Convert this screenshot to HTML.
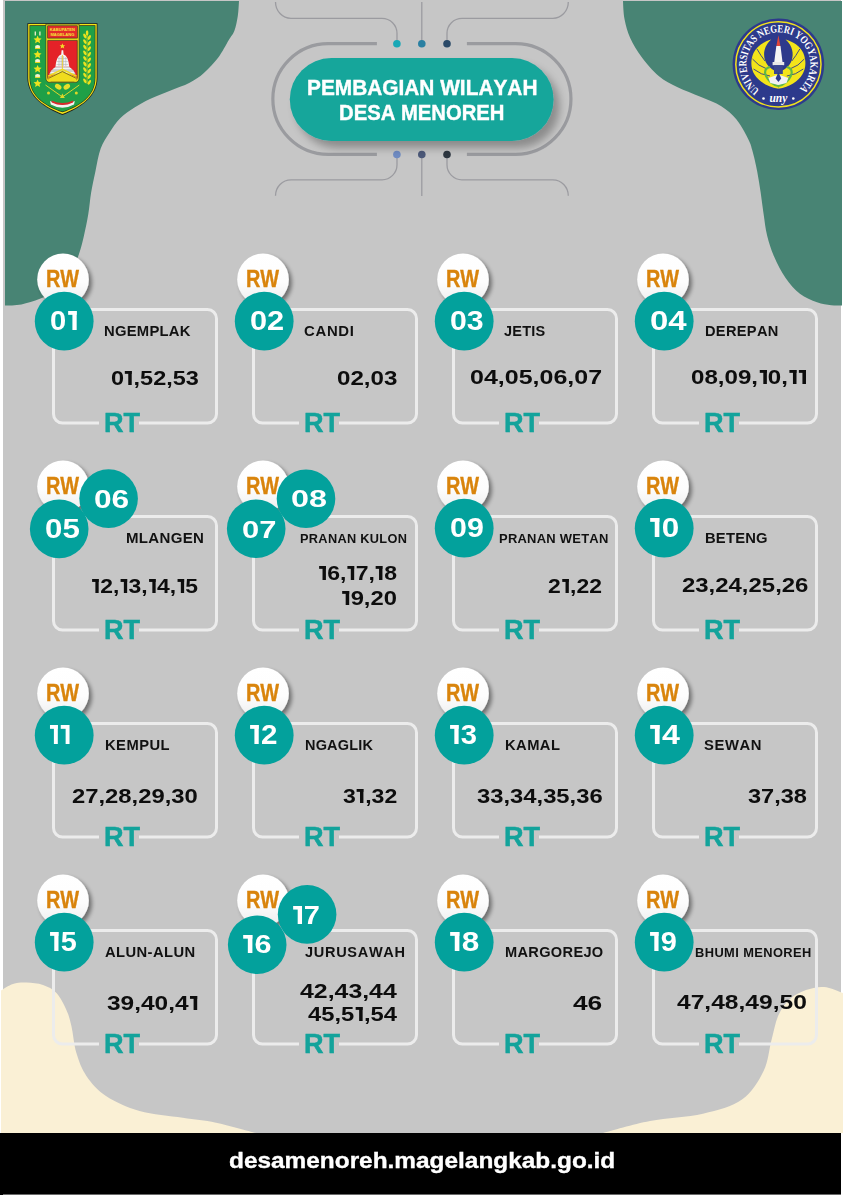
<!DOCTYPE html>
<html><head><meta charset="utf-8"><title>Pembagian Wilayah Desa Menoreh</title>
<style>
html,body{margin:0;padding:0;}
body{width:843px;height:1195px;position:relative;overflow:hidden;background:#ffffff;}
svg.bg{position:absolute;left:0;top:0;}
.t{position:absolute;white-space:nowrap;transform-origin:0 0;font-family:"Liberation Sans",sans-serif;font-weight:bold;font-kerning:none;font-feature-settings:"kern" 0,"liga" 0;}
.o{display:inline-block;width:0.30em;height:0.688em;margin-left:0.05em;margin-right:0.056em;background:linear-gradient(currentColor,currentColor) no-repeat right top/0.15em 100%,linear-gradient(currentColor,currentColor) no-repeat left top/0.3em 0.14em;}
</style></head><body>
<svg class="bg" width="843" height="1195" viewBox="0 0 843 1195">
<defs>
<linearGradient id="rwg" x1="0" y1="0" x2="0" y2="1"><stop offset="0" stop-color="#ffffff"/><stop offset="0.55" stop-color="#fdfdfd"/><stop offset="1" stop-color="#ececec"/></linearGradient>
<filter id="rwshadow" x="-40%" y="-40%" width="190%" height="190%"><feGaussianBlur in="SourceAlpha" stdDeviation="2.2"/><feOffset dx="3" dy="2.5"/><feComponentTransfer><feFuncA type="linear" slope="0.45"/></feComponentTransfer><feMerge><feMergeNode/><feMergeNode in="SourceGraphic"/></feMerge></filter>
<filter id="pshadow" x="-20%" y="-30%" width="140%" height="170%"><feGaussianBlur in="SourceAlpha" stdDeviation="4.5"/><feOffset dx="6" dy="7"/><feComponentTransfer><feFuncA type="linear" slope="0.3"/></feComponentTransfer><feMerge><feMergeNode/><feMergeNode in="SourceGraphic"/></feMerge></filter>
</defs>
<rect x="3" y="0" width="838" height="1195" fill="#c6c6c6"/>
<path d="M239.0,1.0 C238.8,3.5 238.6,11.0 237.8,16.0 C237.0,21.0 235.9,26.8 234.4,30.8 C232.9,34.8 231.5,35.5 228.8,40.0 C226.1,44.5 222.2,52.3 218.1,57.8 C213.9,63.3 208.7,68.8 203.9,72.9 C199.2,77.1 195.2,79.7 189.6,82.7 C183.9,85.7 176.5,88.0 170.0,90.7 C163.5,93.4 156.4,95.9 150.5,98.7 C144.6,101.5 139.6,104.3 134.5,107.6 C129.4,110.9 124.4,114.1 120.2,118.3 C116.0,122.5 112.8,127.5 109.6,132.5 C106.3,137.5 103.1,142.0 100.7,148.5 C98.3,155.0 97.0,164.0 95.4,171.4 C93.8,178.8 92.3,185.6 91.1,192.7 C89.9,199.8 89.5,206.9 88.3,214.0 C87.1,221.1 85.5,228.8 84.0,235.4 C82.5,242.1 81.2,247.5 79.0,253.9 C76.8,260.3 74.2,268.0 70.5,274.0 C66.8,280.0 62.1,285.9 57.0,290.0 C51.9,294.1 45.8,296.4 39.9,298.8 C34.0,301.2 27.2,303.3 21.4,304.4 C15.6,305.5 7.7,305.3 5.0,305.5 L5,1 Z" fill="#488474"/>
<path d="M623.0,1.0 C623.2,4.0 623.3,12.8 624.5,19.0 C625.7,25.2 627.4,31.7 630.2,38.0 C633.1,44.3 636.9,50.7 641.6,57.0 C646.4,63.3 652.7,70.9 658.7,75.9 C664.7,81.0 670.7,83.8 677.6,87.3 C684.5,90.8 693.1,93.6 700.4,96.8 C707.7,100.0 715.3,102.5 721.3,106.3 C727.3,110.1 732.1,114.2 736.5,119.6 C740.9,125.0 745.3,133.4 747.9,138.5 C750.5,143.6 750.7,144.5 752.2,150.0 C753.8,155.5 755.8,164.3 757.2,171.4 C758.6,178.5 759.6,185.6 760.7,192.7 C761.8,199.8 762.5,206.9 763.6,214.0 C764.7,221.1 765.3,228.3 767.1,235.4 C768.9,242.5 771.1,249.7 774.2,256.8 C777.3,263.9 781.3,271.9 785.6,278.1 C789.9,284.3 794.7,289.8 799.9,293.8 C805.1,297.8 811.8,300.4 817.0,302.3 C822.2,304.2 827.0,304.7 831.2,305.2 C835.4,305.7 840.2,305.4 842.0,305.4 L842,1 Z" fill="#488474"/>
<path d="M1.0,990.5 C3.0,989.4 8.7,985.3 13.0,984.0 C17.3,982.7 21.6,982.4 26.6,982.6 C31.6,982.8 38.0,983.3 43.0,985.0 C48.0,986.7 52.6,988.8 56.5,993.0 C60.4,997.2 63.9,1004.5 66.4,1010.0 C68.9,1015.5 69.7,1018.8 71.4,1026.0 C73.1,1033.2 73.9,1044.7 76.4,1053.0 C78.9,1061.3 81.5,1068.8 86.4,1076.0 C91.3,1083.2 97.2,1090.2 106.0,1096.0 C114.8,1101.8 126.7,1107.4 139.5,1111.0 C152.3,1114.6 169.9,1115.8 182.7,1117.8 C195.4,1119.8 203.8,1120.2 216.0,1122.7 C228.2,1125.2 249.3,1131.3 256.0,1133.0 L1,1133 Z" fill="#faf0d5"/>
<path d="M603.0,1133.0 C610.8,1131.0 633.3,1124.2 650.0,1121.0 C666.7,1117.8 687.7,1117.3 703.0,1113.7 C718.3,1110.1 731.9,1106.6 742.0,1099.5 C752.1,1092.4 758.7,1080.9 763.6,1071.0 C768.5,1061.1 769.0,1049.3 771.5,1040.0 C774.0,1030.7 775.4,1021.8 778.5,1015.0 C781.6,1008.2 785.4,1003.2 790.0,999.0 C794.6,994.8 800.3,992.0 806.0,990.0 C811.7,988.0 817.8,986.5 824.0,987.0 C830.2,987.5 839.8,992.0 843.0,993.0 L843,1133 Z" fill="#faf0d5"/>
<g fill="none" stroke="#9b9ba0" stroke-width="1.3"><path d="M275.5,2 A15.5,16.3 0 0 0 291,18.3 H382 A15,15 0 0 1 397,33.3 V43"/><path d="M421.8,2 V43"/><path d="M447,43 V33.3 A15,15 0 0 1 462,18.3 H552.8 A15.5,16.3 0 0 0 568.3,2"/><path d="M397,155 V164.8 A15,15 0 0 1 382,179.8 H291 A15.5,16 0 0 0 275.5,195.8"/><path d="M421.8,155 V196"/><path d="M447,155 V164.8 A15,15 0 0 0 462,179.8 H552.8 A15.5,16 0 0 1 568.3,195.8"/></g>
<g fill="none" stroke="#9a9b9f" stroke-width="3.2"><path d="M376.9,43.65 H328.2 A55.35,55.35 0 0 0 328.2,154.35 H376.9"/><path d="M466.9,43.65 H515.6 A55.35,55.35 0 0 1 515.6,154.35 H466.9"/></g>
<circle cx="396.9" cy="43.8" r="3.8" fill="#19a8b6"/>
<circle cx="421.8" cy="43.8" r="3.8" fill="#2a80a2"/>
<circle cx="447" cy="43.8" r="3.8" fill="#2b4a68"/>
<circle cx="396.9" cy="154.5" r="3.8" fill="#6f8bc2"/>
<circle cx="421.8" cy="154.5" r="3.8" fill="#4b5878"/>
<circle cx="447" cy="154.5" r="3.8" fill="#2d3640"/>
<rect x="289.8" y="58" width="263.8" height="83" rx="41.5" fill="#16a69b" filter="url(#pshadow)"/>
<path d="M139.0,423.0 H207.5 A9,9 0 0 0 216.5,414.0 V318.5 A9,9 0 0 0 207.5,309.5 H62.5 A9,9 0 0 0 53.5,318.5 V414.0 A9,9 0 0 0 62.5,423.0 H99.0" fill="none" stroke="#ececec" stroke-width="3"/>
<circle cx="63" cy="279.4" r="25.8" fill="url(#rwg)" filter="url(#rwshadow)"/>
<circle cx="64.2" cy="321.2" r="29.4" fill="#03a19c"/>
<path d="M339.0,423.0 H407.5 A9,9 0 0 0 416.5,414.0 V318.5 A9,9 0 0 0 407.5,309.5 H262.5 A9,9 0 0 0 253.5,318.5 V414.0 A9,9 0 0 0 262.5,423.0 H299.0" fill="none" stroke="#ececec" stroke-width="3"/>
<circle cx="263" cy="279.4" r="25.8" fill="url(#rwg)" filter="url(#rwshadow)"/>
<circle cx="264.2" cy="321.2" r="29.4" fill="#03a19c"/>
<path d="M539.0,423.0 H607.5 A9,9 0 0 0 616.5,414.0 V318.5 A9,9 0 0 0 607.5,309.5 H462.5 A9,9 0 0 0 453.5,318.5 V414.0 A9,9 0 0 0 462.5,423.0 H499.0" fill="none" stroke="#ececec" stroke-width="3"/>
<circle cx="463" cy="279.4" r="25.8" fill="url(#rwg)" filter="url(#rwshadow)"/>
<circle cx="464.2" cy="321.2" r="29.4" fill="#03a19c"/>
<path d="M739.0,423.0 H807.5 A9,9 0 0 0 816.5,414.0 V318.5 A9,9 0 0 0 807.5,309.5 H662.5 A9,9 0 0 0 653.5,318.5 V414.0 A9,9 0 0 0 662.5,423.0 H699.0" fill="none" stroke="#ececec" stroke-width="3"/>
<circle cx="663" cy="279.4" r="25.8" fill="url(#rwg)" filter="url(#rwshadow)"/>
<circle cx="664.2" cy="321.2" r="29.4" fill="#03a19c"/>
<path d="M139.0,630.0 H207.5 A9,9 0 0 0 216.5,621.0 V525.5 A9,9 0 0 0 207.5,516.5 H62.5 A9,9 0 0 0 53.5,525.5 V621.0 A9,9 0 0 0 62.5,630.0 H99.0" fill="none" stroke="#ececec" stroke-width="3"/>
<circle cx="63" cy="486.4" r="25.8" fill="url(#rwg)" filter="url(#rwshadow)"/>
<circle cx="59.2" cy="528.9" r="29.3" fill="#03a19c"/>
<circle cx="108.6" cy="498.6" r="29.3" fill="#03a19c"/>
<path d="M339.0,630.0 H407.5 A9,9 0 0 0 416.5,621.0 V525.5 A9,9 0 0 0 407.5,516.5 H262.5 A9,9 0 0 0 253.5,525.5 V621.0 A9,9 0 0 0 262.5,630.0 H299.0" fill="none" stroke="#ececec" stroke-width="3"/>
<circle cx="263" cy="486.4" r="25.8" fill="url(#rwg)" filter="url(#rwshadow)"/>
<circle cx="256.2" cy="528.8" r="29.3" fill="#03a19c"/>
<circle cx="306" cy="498.8" r="29.3" fill="#03a19c"/>
<path d="M539.0,630.0 H607.5 A9,9 0 0 0 616.5,621.0 V525.5 A9,9 0 0 0 607.5,516.5 H462.5 A9,9 0 0 0 453.5,525.5 V621.0 A9,9 0 0 0 462.5,630.0 H499.0" fill="none" stroke="#ececec" stroke-width="3"/>
<circle cx="463" cy="486.4" r="25.8" fill="url(#rwg)" filter="url(#rwshadow)"/>
<circle cx="464.2" cy="528.2" r="29.4" fill="#03a19c"/>
<path d="M739.0,630.0 H807.5 A9,9 0 0 0 816.5,621.0 V525.5 A9,9 0 0 0 807.5,516.5 H662.5 A9,9 0 0 0 653.5,525.5 V621.0 A9,9 0 0 0 662.5,630.0 H699.0" fill="none" stroke="#ececec" stroke-width="3"/>
<circle cx="663" cy="486.4" r="25.8" fill="url(#rwg)" filter="url(#rwshadow)"/>
<circle cx="664.2" cy="528.2" r="29.4" fill="#03a19c"/>
<path d="M139.0,837.0 H207.5 A9,9 0 0 0 216.5,828.0 V732.5 A9,9 0 0 0 207.5,723.5 H62.5 A9,9 0 0 0 53.5,732.5 V828.0 A9,9 0 0 0 62.5,837.0 H99.0" fill="none" stroke="#ececec" stroke-width="3"/>
<circle cx="63" cy="693.4" r="25.8" fill="url(#rwg)" filter="url(#rwshadow)"/>
<circle cx="64.2" cy="735.2" r="29.4" fill="#03a19c"/>
<path d="M339.0,837.0 H407.5 A9,9 0 0 0 416.5,828.0 V732.5 A9,9 0 0 0 407.5,723.5 H262.5 A9,9 0 0 0 253.5,732.5 V828.0 A9,9 0 0 0 262.5,837.0 H299.0" fill="none" stroke="#ececec" stroke-width="3"/>
<circle cx="263" cy="693.4" r="25.8" fill="url(#rwg)" filter="url(#rwshadow)"/>
<circle cx="264.2" cy="735.2" r="29.4" fill="#03a19c"/>
<path d="M539.0,837.0 H607.5 A9,9 0 0 0 616.5,828.0 V732.5 A9,9 0 0 0 607.5,723.5 H462.5 A9,9 0 0 0 453.5,732.5 V828.0 A9,9 0 0 0 462.5,837.0 H499.0" fill="none" stroke="#ececec" stroke-width="3"/>
<circle cx="463" cy="693.4" r="25.8" fill="url(#rwg)" filter="url(#rwshadow)"/>
<circle cx="464.2" cy="735.2" r="29.4" fill="#03a19c"/>
<path d="M739.0,837.0 H807.5 A9,9 0 0 0 816.5,828.0 V732.5 A9,9 0 0 0 807.5,723.5 H662.5 A9,9 0 0 0 653.5,732.5 V828.0 A9,9 0 0 0 662.5,837.0 H699.0" fill="none" stroke="#ececec" stroke-width="3"/>
<circle cx="663" cy="693.4" r="25.8" fill="url(#rwg)" filter="url(#rwshadow)"/>
<circle cx="664.2" cy="735.2" r="29.4" fill="#03a19c"/>
<path d="M139.0,1044.0 H207.5 A9,9 0 0 0 216.5,1035.0 V939.5 A9,9 0 0 0 207.5,930.5 H62.5 A9,9 0 0 0 53.5,939.5 V1035.0 A9,9 0 0 0 62.5,1044.0 H99.0" fill="none" stroke="#ececec" stroke-width="3"/>
<circle cx="63" cy="900.4" r="25.8" fill="url(#rwg)" filter="url(#rwshadow)"/>
<circle cx="64.2" cy="942.2" r="29.4" fill="#03a19c"/>
<path d="M339.0,1044.0 H407.5 A9,9 0 0 0 416.5,1035.0 V939.5 A9,9 0 0 0 407.5,930.5 H262.5 A9,9 0 0 0 253.5,939.5 V1035.0 A9,9 0 0 0 262.5,1044.0 H299.0" fill="none" stroke="#ececec" stroke-width="3"/>
<circle cx="263" cy="900.4" r="25.8" fill="url(#rwg)" filter="url(#rwshadow)"/>
<circle cx="257.2" cy="944.8" r="29.3" fill="#03a19c"/>
<circle cx="307.1" cy="914.4" r="29.3" fill="#03a19c"/>
<path d="M539.0,1044.0 H607.5 A9,9 0 0 0 616.5,1035.0 V939.5 A9,9 0 0 0 607.5,930.5 H462.5 A9,9 0 0 0 453.5,939.5 V1035.0 A9,9 0 0 0 462.5,1044.0 H499.0" fill="none" stroke="#ececec" stroke-width="3"/>
<circle cx="463" cy="900.4" r="25.8" fill="url(#rwg)" filter="url(#rwshadow)"/>
<circle cx="464.2" cy="942.2" r="29.4" fill="#03a19c"/>
<path d="M739.0,1044.0 H807.5 A9,9 0 0 0 816.5,1035.0 V939.5 A9,9 0 0 0 807.5,930.5 H662.5 A9,9 0 0 0 653.5,939.5 V1035.0 A9,9 0 0 0 662.5,1044.0 H699.0" fill="none" stroke="#ececec" stroke-width="3"/>
<circle cx="663" cy="900.4" r="25.8" fill="url(#rwg)" filter="url(#rwshadow)"/>
<circle cx="664.2" cy="942.2" r="29.4" fill="#03a19c"/>
<rect x="0" y="1133" width="841" height="62" fill="#000"/>
<rect x="3" y="1194" width="838" height="1" fill="#6a6a6a"/>
<g><path d="M27.40,23.20 H97.50 V77.7 C97.50,97.00 80.00,108.00 62.45,115.10 C45.00,108.00 27.40,97.00 27.40,77.7 Z" fill="#1e1e1a"/><path d="M28.20,24.00 H96.70 V77.7 C96.70,96.76 80.00,107.20 62.45,114.06 C45.00,107.20 28.20,96.76 28.20,77.7 Z" fill="#f3e416"/><path d="M29.50,25.30 H95.40 V77.7 C95.40,96.37 80.00,105.90 62.45,112.37 C45.00,105.90 29.50,96.37 29.50,77.7 Z" fill="#2a2f1c"/><path d="M30.10,25.90 H94.80 V77.7 C94.80,96.19 80.00,105.30 62.45,111.59 C45.00,105.30 30.10,96.19 30.10,77.7 Z" fill="#1fa047"/><path d="M45.9,24.1 H79.1 V78 Q79.1,82.4 75,82.4 H50 Q45.9,82.4 45.9,78 Z" fill="#efe01a" stroke="#262626" stroke-width="0.6"/><rect x="47.7" y="25.8" width="29.6" height="12.3" fill="#e42b2a" stroke="#262626" stroke-width="0.6"/><text x="62.4" y="31.2" font-family="Liberation Sans" font-weight="bold" font-size="4.1" fill="#f5e53a" text-anchor="middle">KABUPATEN</text><text x="62.4" y="36" font-family="Liberation Sans" font-weight="bold" font-size="4.1" fill="#f5e53a" text-anchor="middle">MAGELANG</text><path d="M47.7,40.4 H77.3 V77.5 Q77.3,80.9 73.9,80.9 H51.1 Q47.7,80.9 47.7,77.5 Z" fill="#e42228" stroke="#262626" stroke-width="0.6"/><path d="M62.4,43.2 L63.2,45.2 L65.2,45.3 L63.7,46.6 L64.2,48.6 L62.4,47.5 L60.6,48.6 L61.1,46.6 L59.6,45.3 L61.6,45.2 Z" fill="#f2dc2a"/><path d="M61.6,50.2 H63.2 L63.6,54.4 C66.8,55.4 68.6,59.5 69.3,66.8 H55.5 C56.2,59.5 58,55.4 61.2,54.4 Z" fill="#f6f6f6"/><path d="M57.5,58.5 H67.3 M57,61.5 H67.8 M56.5,64.5 H68.3" stroke="#b8b8b8" stroke-width="0.6"/><path d="M59,57 V66 M61.2,56 V66 M63.6,56 V66 M65.8,57 V66" stroke="#b0b0b0" stroke-width="0.6"/><path d="M55.5,66.8 H69.3 L73.5,70.5 L75.8,74.6 H49 L51.3,70.5 Z" fill="#cfcfcf"/><path d="M53.6,68.6 H71.2 M50.6,72.6 H74.2" stroke="#f5f5f5" stroke-width="1"/><path d="M62.4,55 V73.5" stroke="#e6c92a" stroke-width="0.9"/><path d="M48.2,80.9 V77.6 L62.4,70.8 L76.6,77.6 V80.9 Z" fill="#f0dc1e"/><path d="M48.2,76.2 L62.4,69.4 L76.6,76.2" fill="none" stroke="#f0dc1e" stroke-width="1.6"/><path d="M48.6,78.3 L62.4,71.6 L76.2,78.3" fill="none" stroke="#5a4a1a" stroke-width="0.7"/><path d="M37.60,35.60 L38.78,38.17 L41.59,38.50 L39.52,40.42 L40.07,43.20 L37.60,41.82 L35.13,43.20 L35.68,40.42 L33.61,38.50 L36.42,38.17 Z" fill="#eee31e"/><path d="M37.60,50.50 L38.78,53.07 L41.59,53.40 L39.52,55.32 L40.07,58.10 L37.60,56.72 L35.13,58.10 L35.68,55.32 L33.61,53.40 L36.42,53.07 Z" fill="#eee31e"/><path d="M37.60,64.90 L38.78,67.47 L41.59,67.80 L39.52,69.72 L40.07,72.50 L37.60,71.12 L35.13,72.50 L35.68,69.72 L33.61,67.80 L36.42,67.47 Z" fill="#eee31e"/><path d="M37.60,79.40 L38.78,81.97 L41.59,82.30 L39.52,84.22 L40.07,87.00 L37.60,85.62 L35.13,87.00 L35.68,84.22 L33.61,82.30 L36.42,81.97 Z" fill="#eee31e"/><ellipse cx="37.6" cy="47" rx="2.6" ry="2" fill="#f6f3d0"/><rect x="35" y="48" width="5.2" height="1" fill="#e8d81c"/><ellipse cx="37.6" cy="61" rx="2.6" ry="2" fill="#f6f3d0"/><rect x="35" y="62" width="5.2" height="1" fill="#e8d81c"/><ellipse cx="37.6" cy="75.9" rx="2.6" ry="2" fill="#f6f3d0"/><rect x="35" y="76.9" width="5.2" height="1" fill="#e8d81c"/><path d="M35.3,31.5 V35.5 M39.9,31.5 V35.5" stroke="#f0eecc" stroke-width="1.3"/><path d="M87.1,32 V84" stroke="#d7d21c" stroke-width="0.7"/><ellipse cx="84.9" cy="36.0" rx="1.3" ry="2.6" transform="rotate(-30 84.9 36.0)" fill="#e9e21e"/><ellipse cx="89.3" cy="37.5" rx="1.3" ry="2.6" transform="rotate(30 89.3 37.5)" fill="#e9e21e"/><ellipse cx="84.9" cy="41.6" rx="1.3" ry="2.6" transform="rotate(-30 84.9 41.6)" fill="#e9e21e"/><ellipse cx="89.3" cy="43.1" rx="1.3" ry="2.6" transform="rotate(30 89.3 43.1)" fill="#e9e21e"/><ellipse cx="84.9" cy="47.2" rx="1.3" ry="2.6" transform="rotate(-30 84.9 47.2)" fill="#e9e21e"/><ellipse cx="89.3" cy="48.7" rx="1.3" ry="2.6" transform="rotate(30 89.3 48.7)" fill="#e9e21e"/><ellipse cx="84.9" cy="52.8" rx="1.3" ry="2.6" transform="rotate(-30 84.9 52.8)" fill="#e9e21e"/><ellipse cx="89.3" cy="54.3" rx="1.3" ry="2.6" transform="rotate(30 89.3 54.3)" fill="#e9e21e"/><ellipse cx="84.9" cy="58.4" rx="1.3" ry="2.6" transform="rotate(-30 84.9 58.4)" fill="#e9e21e"/><ellipse cx="89.3" cy="59.9" rx="1.3" ry="2.6" transform="rotate(30 89.3 59.9)" fill="#e9e21e"/><ellipse cx="84.9" cy="64.0" rx="1.3" ry="2.6" transform="rotate(-30 84.9 64.0)" fill="#e9e21e"/><ellipse cx="89.3" cy="65.5" rx="1.3" ry="2.6" transform="rotate(30 89.3 65.5)" fill="#e9e21e"/><ellipse cx="84.9" cy="69.6" rx="1.3" ry="2.6" transform="rotate(-30 84.9 69.6)" fill="#e9e21e"/><ellipse cx="89.3" cy="71.1" rx="1.3" ry="2.6" transform="rotate(30 89.3 71.1)" fill="#e9e21e"/><ellipse cx="84.9" cy="75.2" rx="1.3" ry="2.6" transform="rotate(-30 84.9 75.2)" fill="#e9e21e"/><ellipse cx="89.3" cy="76.7" rx="1.3" ry="2.6" transform="rotate(30 89.3 76.7)" fill="#e9e21e"/><ellipse cx="84.9" cy="80.8" rx="1.3" ry="2.6" transform="rotate(-30 84.9 80.8)" fill="#e9e21e"/><ellipse cx="89.3" cy="82.3" rx="1.3" ry="2.6" transform="rotate(30 89.3 82.3)" fill="#e9e21e"/><ellipse cx="87.1" cy="33" rx="1.3" ry="2.8" fill="#e9e21e"/><ellipse cx="58.2" cy="86.8" rx="3.6" ry="2.4" transform="rotate(35 58.2 86.8)" fill="#e6de2a"/><ellipse cx="66.8" cy="86.8" rx="3.6" ry="2.4" transform="rotate(-35 66.8 86.8)" fill="#e6de2a"/><path d="M45.5,85 L62.4,97 L79.3,85" fill="none" stroke="#dcd62a" stroke-width="1"/><circle cx="48.5" cy="93" r="1.5" fill="#dcd62a"/><circle cx="76.3" cy="93" r="1.5" fill="#dcd62a"/><path d="M62.4,93.5 L60,98 H64.8 Z" fill="#dcd62a"/><path d="M50,101 Q62.4,108 74.8,101 L74,104.5 Q62.4,111 50.8,104.5 Z" fill="#f2f2f2"/><path d="M51.5,100.5 Q62.4,105.5 73.3,100.5 L73,102.5 Q62.4,107.5 51.8,102.5 Z" fill="#d82a2a"/></g>
<g><circle cx="778.4" cy="64.3" r="45.8" fill="#2d3a8c"/><circle cx="778.4" cy="64.3" r="42.6" fill="none" stroke="#f1e21c" stroke-width="1.5"/><defs><path id="uarc" d="M759.6,90.2 A32,32 0 1 1 797.2,90.2"/></defs><text font-family="Liberation Serif" font-weight="bold" font-size="11" fill="#ffffff"><textPath href="#uarc" textLength="158" lengthAdjust="spacingAndGlyphs">UNIVERSITAS NEGERI YOGYAKARTA</textPath></text><path d="M771.2,39.5 C763,42 757,46 753.5,53 C750.5,60 750.5,68 754.5,74.5 C758.5,81 767,87 778.4,88.8 L778.4,72 C772,70 767,66 765,60 C763,54 764,46 771.2,39.5 Z" fill="#f3e41a"/><path d="M785.6,39.5 C793.8,42 799.8,46 803.3,53 C806.3,60 806.3,68 802.3,74.5 C798.3,81 789.8,87 778.4,88.8 L778.4,72 C784.8,70 789.8,66 791.8,60 C793.8,54 792.8,46 785.6,39.5 Z" fill="#f3e41a"/><path d="M757,49 Q761,56 765,61 M752.5,59 Q758,66 767,69 M753.5,69 Q761,75 770,76 M799.8,49 Q795.8,56 791.8,61 M804.3,59 Q798.8,66 789.8,69 M803.3,69 Q795.8,75 786.8,76" fill="none" stroke="#2d3a8c" stroke-width="0.9"/><path d="M776.3,46 H780.5 L782.6,62.5 H774.2 Z" fill="#f4f4f4"/><path d="M776.4,46 L778.4,35.2 L780.4,46 Z" fill="#e0463a"/><rect x="772.6" y="62" width="11.6" height="3.2" fill="#e8e8e8"/><path d="M774,65.2 H782.8 V74 H774 Z" fill="#3a4690"/><path d="M770,67 C765,68 764,72 766,76 C769,82 774,85 778.4,86 C782.8,85 787.8,82 790.8,76 C792.8,72 791.8,68 786.8,67" fill="none" stroke="#5fb848" stroke-width="2.2"/><path d="M768.5,78 L778.4,74.5 L788.3,78 L786.5,83 L778.4,85 L770.3,83 Z" fill="#f2f2f2"/><path d="M778.4,72 L781.2,78.5 L778.4,82 L775.6,78.5 Z" fill="#2d3a8c"/><text x="778.4" y="101.5" font-family="Liberation Serif" font-style="italic" font-weight="bold" font-size="11.5" fill="#ffffff" text-anchor="middle">uny</text><circle cx="763.5" cy="98.5" r="1.3" fill="#fff"/><circle cx="793.3" cy="98.5" r="1.3" fill="#fff"/></g>
</svg>
<div class="t" style="left:46.37px;top:267.00px;font-size:24.71px;line-height:24.71px;letter-spacing:-0.000px;color:#d9840c;transform:scaleX(0.8053);-webkit-text-stroke:0.35px #d9840c;">RW</div>
<div class="t" style="left:49.75px;top:307.00px;font-size:27.35px;line-height:27.35px;letter-spacing:0.000px;color:#ffffff;transform:scaleX(1.0671);">0<span class=o></span></div>
<div class="t" style="left:104.41px;top:324.00px;font-size:14.54px;line-height:14.54px;letter-spacing:0.231px;color:#111111;transform:scaleX(1.0193);">NGEMPLAK</div>
<div class="t" style="left:110.77px;top:368.00px;font-size:20.41px;line-height:20.41px;letter-spacing:0.000px;color:#0d0d0d;transform:scaleX(1.1505);">0<span class=o></span>,52,53</div>
<div class="t" style="left:103.89px;top:409.00px;font-size:27.76px;line-height:27.76px;letter-spacing:-0.000px;color:#13a39b;transform:scaleX(0.9756);-webkit-text-stroke:0.5px #13a39b;">RT</div>
<div class="t" style="left:246.37px;top:267.00px;font-size:24.71px;line-height:24.71px;letter-spacing:-0.000px;color:#d9840c;transform:scaleX(0.8053);-webkit-text-stroke:0.35px #d9840c;">RW</div>
<div class="t" style="left:249.68px;top:307.00px;font-size:27.35px;line-height:27.35px;letter-spacing:0.000px;color:#ffffff;transform:scaleX(1.1257);">02</div>
<div class="t" style="left:304.49px;top:324.00px;font-size:14.10px;line-height:14.10px;letter-spacing:0.647px;color:#111111;transform:scaleX(1.0566);">CANDI</div>
<div class="t" style="left:336.54px;top:368.00px;font-size:20.34px;line-height:20.34px;letter-spacing:0.000px;color:#0d0d0d;transform:scaleX(1.1874);">02,03</div>
<div class="t" style="left:303.89px;top:409.00px;font-size:27.76px;line-height:27.76px;letter-spacing:-0.000px;color:#13a39b;transform:scaleX(0.9756);-webkit-text-stroke:0.5px #13a39b;">RT</div>
<div class="t" style="left:446.37px;top:267.00px;font-size:24.71px;line-height:24.71px;letter-spacing:-0.000px;color:#d9840c;transform:scaleX(0.8053);-webkit-text-stroke:0.35px #d9840c;">RW</div>
<div class="t" style="left:449.70px;top:307.00px;font-size:27.35px;line-height:27.35px;letter-spacing:0.000px;color:#ffffff;transform:scaleX(1.1073);">03</div>
<div class="t" style="left:504.48px;top:324.00px;font-size:14.24px;line-height:14.24px;letter-spacing:0.199px;color:#111111;transform:scaleX(1.0201);">JETIS</div>
<div class="t" style="left:469.51px;top:367.00px;font-size:20.34px;line-height:20.34px;letter-spacing:0.000px;color:#0d0d0d;transform:scaleX(1.2295);">04,05,06,07</div>
<div class="t" style="left:503.89px;top:409.00px;font-size:27.76px;line-height:27.76px;letter-spacing:-0.000px;color:#13a39b;transform:scaleX(0.9756);-webkit-text-stroke:0.5px #13a39b;">RT</div>
<div class="t" style="left:646.37px;top:267.00px;font-size:24.71px;line-height:24.71px;letter-spacing:-0.000px;color:#d9840c;transform:scaleX(0.8053);-webkit-text-stroke:0.35px #d9840c;">RW</div>
<div class="t" style="left:649.60px;top:307.00px;font-size:27.35px;line-height:27.35px;letter-spacing:0.000px;color:#ffffff;transform:scaleX(1.2056);">04</div>
<div class="t" style="left:705.02px;top:324.00px;font-size:14.24px;line-height:14.24px;letter-spacing:0.305px;color:#111111;transform:scaleX(1.0263);">DEREPAN</div>
<div class="t" style="left:691.45px;top:367.00px;font-size:20.34px;line-height:20.34px;letter-spacing:0.000px;color:#0d0d0d;transform:scaleX(1.1854);">08,09,<span class=o></span>0,<span class=o></span><span class=o></span></div>
<div class="t" style="left:703.89px;top:409.00px;font-size:27.76px;line-height:27.76px;letter-spacing:-0.000px;color:#13a39b;transform:scaleX(0.9756);-webkit-text-stroke:0.5px #13a39b;">RT</div>
<div class="t" style="left:46.37px;top:474.00px;font-size:24.71px;line-height:24.71px;letter-spacing:-0.000px;color:#d9840c;transform:scaleX(0.8053);-webkit-text-stroke:0.35px #d9840c;">RW</div>
<div class="t" style="left:44.86px;top:516.00px;font-size:26.92px;line-height:26.92px;letter-spacing:0.000px;color:#ffffff;transform:scaleX(1.1623);">05</div>
<div class="t" style="left:93.75px;top:486.00px;font-size:26.50px;line-height:26.50px;letter-spacing:0.000px;color:#ffffff;transform:scaleX(1.1942);">06</div>
<div class="t" style="left:125.79px;top:531.00px;font-size:14.68px;line-height:14.68px;letter-spacing:0.313px;color:#111111;transform:scaleX(1.0254);">MLANGEN</div>
<div class="t" style="left:90.76px;top:576.00px;font-size:20.91px;line-height:20.91px;letter-spacing:0.000px;color:#0d0d0d;transform:scaleX(1.0955);"><span class=o></span>2,<span class=o></span>3,<span class=o></span>4,<span class=o></span>5</div>
<div class="t" style="left:103.89px;top:616.00px;font-size:27.76px;line-height:27.76px;letter-spacing:-0.000px;color:#13a39b;transform:scaleX(0.9756);-webkit-text-stroke:0.5px #13a39b;">RT</div>
<div class="t" style="left:246.37px;top:474.00px;font-size:24.71px;line-height:24.71px;letter-spacing:-0.000px;color:#d9840c;transform:scaleX(0.8053);-webkit-text-stroke:0.35px #d9840c;">RW</div>
<div class="t" style="left:241.68px;top:518.00px;font-size:24.78px;line-height:24.78px;letter-spacing:0.000px;color:#ffffff;transform:scaleX(1.2475);">07</div>
<div class="t" style="left:291.42px;top:487.00px;font-size:24.78px;line-height:24.78px;letter-spacing:0.000px;color:#ffffff;transform:scaleX(1.3053);">08</div>
<div class="t" style="left:300.15px;top:533.00px;font-size:12.35px;line-height:12.35px;letter-spacing:0.307px;color:#111111;transform:scaleX(1.0331);">PRANAN KULON</div>
<div class="t" style="left:317.95px;top:563.00px;font-size:20.34px;line-height:20.34px;letter-spacing:0.000px;color:#0d0d0d;transform:scaleX(1.1305);"><span class=o></span>6,<span class=o></span>7,<span class=o></span>8</div>
<div class="t" style="left:340.62px;top:588.00px;font-size:20.34px;line-height:20.34px;letter-spacing:0.000px;color:#0d0d0d;transform:scaleX(1.1697);"><span class=o></span>9,20</div>
<div class="t" style="left:303.89px;top:616.00px;font-size:27.76px;line-height:27.76px;letter-spacing:-0.000px;color:#13a39b;transform:scaleX(0.9756);-webkit-text-stroke:0.5px #13a39b;">RT</div>
<div class="t" style="left:446.37px;top:474.00px;font-size:24.71px;line-height:24.71px;letter-spacing:-0.000px;color:#d9840c;transform:scaleX(0.8053);-webkit-text-stroke:0.35px #d9840c;">RW</div>
<div class="t" style="left:449.70px;top:514.00px;font-size:27.35px;line-height:27.35px;letter-spacing:0.000px;color:#ffffff;transform:scaleX(1.1119);">09</div>
<div class="t" style="left:498.83px;top:533.00px;font-size:12.65px;line-height:12.65px;letter-spacing:0.242px;color:#111111;transform:scaleX(1.0254);">PRANAN WETAN</div>
<div class="t" style="left:548.21px;top:576.00px;font-size:20.91px;line-height:20.91px;letter-spacing:0.000px;color:#0d0d0d;transform:scaleX(1.0960);">2<span class=o></span>,22</div>
<div class="t" style="left:503.89px;top:616.00px;font-size:27.76px;line-height:27.76px;letter-spacing:-0.000px;color:#13a39b;transform:scaleX(0.9756);-webkit-text-stroke:0.5px #13a39b;">RT</div>
<div class="t" style="left:646.37px;top:474.00px;font-size:24.71px;line-height:24.71px;letter-spacing:-0.000px;color:#d9840c;transform:scaleX(0.8053);-webkit-text-stroke:0.35px #d9840c;">RW</div>
<div class="t" style="left:648.53px;top:514.00px;font-size:27.35px;line-height:27.35px;letter-spacing:0.000px;color:#ffffff;transform:scaleX(1.1493);"><span class=o></span>0</div>
<div class="t" style="left:704.71px;top:531.00px;font-size:14.54px;line-height:14.54px;letter-spacing:0.201px;color:#111111;transform:scaleX(1.0168);">BETENG</div>
<div class="t" style="left:681.67px;top:576.00px;font-size:19.91px;line-height:19.91px;letter-spacing:0.000px;color:#0d0d0d;transform:scaleX(1.2019);">23,24,25,26</div>
<div class="t" style="left:703.89px;top:616.00px;font-size:27.76px;line-height:27.76px;letter-spacing:-0.000px;color:#13a39b;transform:scaleX(0.9756);-webkit-text-stroke:0.5px #13a39b;">RT</div>
<div class="t" style="left:46.37px;top:681.00px;font-size:24.71px;line-height:24.71px;letter-spacing:-0.000px;color:#d9840c;transform:scaleX(0.8053);-webkit-text-stroke:0.35px #d9840c;">RW</div>
<div class="t" style="left:48.77px;top:721.00px;font-size:27.35px;line-height:27.35px;letter-spacing:-0.000px;color:#ffffff;transform:scaleX(0.9779);"><span class=o></span><span class=o></span></div>
<div class="t" style="left:104.71px;top:738.00px;font-size:14.24px;line-height:14.24px;letter-spacing:0.445px;color:#111111;transform:scaleX(1.0365);">KEMPUL</div>
<div class="t" style="left:72.17px;top:786.00px;font-size:20.34px;line-height:20.34px;letter-spacing:0.000px;color:#0d0d0d;transform:scaleX(1.1719);">27,28,29,30</div>
<div class="t" style="left:103.89px;top:823.00px;font-size:27.76px;line-height:27.76px;letter-spacing:-0.000px;color:#13a39b;transform:scaleX(0.9756);-webkit-text-stroke:0.5px #13a39b;">RT</div>
<div class="t" style="left:246.37px;top:681.00px;font-size:24.71px;line-height:24.71px;letter-spacing:-0.000px;color:#d9840c;transform:scaleX(0.8053);-webkit-text-stroke:0.35px #d9840c;">RW</div>
<div class="t" style="left:248.63px;top:721.00px;font-size:27.35px;line-height:27.35px;letter-spacing:0.000px;color:#ffffff;transform:scaleX(1.0809);"><span class=o></span>2</div>
<div class="t" style="left:304.73px;top:738.00px;font-size:14.24px;line-height:14.24px;letter-spacing:0.192px;color:#111111;transform:scaleX(1.0175);">NGAGLIK</div>
<div class="t" style="left:343.47px;top:786.00px;font-size:20.34px;line-height:20.34px;letter-spacing:0.000px;color:#0d0d0d;transform:scaleX(1.1340);">3<span class=o></span>,32</div>
<div class="t" style="left:303.89px;top:823.00px;font-size:27.76px;line-height:27.76px;letter-spacing:-0.000px;color:#13a39b;transform:scaleX(0.9756);-webkit-text-stroke:0.5px #13a39b;">RT</div>
<div class="t" style="left:446.37px;top:681.00px;font-size:24.71px;line-height:24.71px;letter-spacing:-0.000px;color:#d9840c;transform:scaleX(0.8053);-webkit-text-stroke:0.35px #d9840c;">RW</div>
<div class="t" style="left:448.65px;top:721.00px;font-size:27.35px;line-height:27.35px;letter-spacing:0.000px;color:#ffffff;transform:scaleX(1.0678);"><span class=o></span>3</div>
<div class="t" style="left:504.72px;top:738.00px;font-size:14.24px;line-height:14.24px;letter-spacing:0.433px;color:#111111;transform:scaleX(1.0335);">KAMAL</div>
<div class="t" style="left:476.65px;top:786.00px;font-size:20.34px;line-height:20.34px;letter-spacing:0.000px;color:#0d0d0d;transform:scaleX(1.1701);">33,34,35,36</div>
<div class="t" style="left:503.89px;top:823.00px;font-size:27.76px;line-height:27.76px;letter-spacing:-0.000px;color:#13a39b;transform:scaleX(0.9756);-webkit-text-stroke:0.5px #13a39b;">RT</div>
<div class="t" style="left:646.37px;top:681.00px;font-size:24.71px;line-height:24.71px;letter-spacing:-0.000px;color:#d9840c;transform:scaleX(0.8053);-webkit-text-stroke:0.35px #d9840c;">RW</div>
<div class="t" style="left:648.50px;top:721.00px;font-size:27.35px;line-height:27.35px;letter-spacing:0.000px;color:#ffffff;transform:scaleX(1.1766);"><span class=o></span>4</div>
<div class="t" style="left:704.27px;top:738.00px;font-size:14.24px;line-height:14.24px;letter-spacing:0.544px;color:#111111;transform:scaleX(1.0404);">SEWAN</div>
<div class="t" style="left:748.36px;top:786.00px;font-size:20.34px;line-height:20.34px;letter-spacing:0.000px;color:#0d0d0d;transform:scaleX(1.1587);">37,38</div>
<div class="t" style="left:703.89px;top:823.00px;font-size:27.76px;line-height:27.76px;letter-spacing:-0.000px;color:#13a39b;transform:scaleX(0.9756);-webkit-text-stroke:0.5px #13a39b;">RT</div>
<div class="t" style="left:46.37px;top:888.00px;font-size:24.71px;line-height:24.71px;letter-spacing:-0.000px;color:#d9840c;transform:scaleX(0.8053);-webkit-text-stroke:0.35px #d9840c;">RW</div>
<div class="t" style="left:48.66px;top:928.00px;font-size:27.35px;line-height:27.35px;letter-spacing:0.000px;color:#ffffff;transform:scaleX(1.0536);"><span class=o></span>5</div>
<div class="t" style="left:105.33px;top:945.00px;font-size:14.24px;line-height:14.24px;letter-spacing:0.390px;color:#111111;transform:scaleX(1.0365);">ALUN-ALUN</div>
<div class="t" style="left:106.94px;top:993.00px;font-size:20.34px;line-height:20.34px;letter-spacing:0.000px;color:#0d0d0d;transform:scaleX(1.2026);">39,40,4<span class=o></span></div>
<div class="t" style="left:103.89px;top:1030.00px;font-size:27.76px;line-height:27.76px;letter-spacing:-0.000px;color:#13a39b;transform:scaleX(0.9756);-webkit-text-stroke:0.5px #13a39b;">RT</div>
<div class="t" style="left:246.37px;top:888.00px;font-size:24.71px;line-height:24.71px;letter-spacing:-0.000px;color:#d9840c;transform:scaleX(0.8053);-webkit-text-stroke:0.35px #d9840c;">RW</div>
<div class="t" style="left:242.28px;top:931.00px;font-size:26.21px;line-height:26.21px;letter-spacing:0.000px;color:#ffffff;transform:scaleX(1.1667);"><span class=o></span>6</div>
<div class="t" style="left:292.16px;top:903.00px;font-size:25.49px;line-height:25.49px;letter-spacing:0.000px;color:#ffffff;transform:scaleX(1.1380);"><span class=o></span>7</div>
<div class="t" style="left:304.58px;top:946.00px;font-size:13.81px;line-height:13.81px;letter-spacing:0.643px;color:#111111;transform:scaleX(1.0548);">JURUSAWAH</div>
<div class="t" style="left:299.92px;top:981.00px;font-size:20.34px;line-height:20.34px;letter-spacing:0.000px;color:#0d0d0d;transform:scaleX(1.2229);">42,43,44</div>
<div class="t" style="left:307.64px;top:1004.00px;font-size:20.48px;line-height:20.48px;letter-spacing:0.000px;color:#0d0d0d;transform:scaleX(1.1623);">45,5<span class=o></span>,54</div>
<div class="t" style="left:303.89px;top:1030.00px;font-size:27.76px;line-height:27.76px;letter-spacing:-0.000px;color:#13a39b;transform:scaleX(0.9756);-webkit-text-stroke:0.5px #13a39b;">RT</div>
<div class="t" style="left:446.37px;top:888.00px;font-size:24.71px;line-height:24.71px;letter-spacing:-0.000px;color:#d9840c;transform:scaleX(0.8053);-webkit-text-stroke:0.35px #d9840c;">RW</div>
<div class="t" style="left:448.53px;top:928.00px;font-size:27.35px;line-height:27.35px;letter-spacing:0.000px;color:#ffffff;transform:scaleX(1.1525);"><span class=o></span>8</div>
<div class="t" style="left:504.72px;top:945.00px;font-size:14.24px;line-height:14.24px;letter-spacing:0.304px;color:#111111;transform:scaleX(1.0258);">MARGOREJO</div>
<div class="t" style="left:573.20px;top:993.00px;font-size:20.34px;line-height:20.34px;letter-spacing:0.000px;color:#0d0d0d;transform:scaleX(1.2930);">46</div>
<div class="t" style="left:503.89px;top:1030.00px;font-size:27.76px;line-height:27.76px;letter-spacing:-0.000px;color:#13a39b;transform:scaleX(0.9756);-webkit-text-stroke:0.5px #13a39b;">RT</div>
<div class="t" style="left:646.37px;top:888.00px;font-size:24.71px;line-height:24.71px;letter-spacing:-0.000px;color:#d9840c;transform:scaleX(0.8053);-webkit-text-stroke:0.35px #d9840c;">RW</div>
<div class="t" style="left:648.66px;top:928.00px;font-size:27.35px;line-height:27.35px;letter-spacing:0.000px;color:#ffffff;transform:scaleX(1.0606);"><span class=o></span>9</div>
<div class="t" style="left:694.84px;top:947.00px;font-size:12.35px;line-height:12.35px;letter-spacing:0.387px;color:#111111;transform:scaleX(1.0422);">BHUMI MENOREH</div>
<div class="t" style="left:676.93px;top:992.00px;font-size:20.48px;line-height:20.48px;letter-spacing:0.000px;color:#0d0d0d;transform:scaleX(1.2005);">47,48,49,50</div>
<div class="t" style="left:703.89px;top:1030.00px;font-size:27.76px;line-height:27.76px;letter-spacing:-0.000px;color:#13a39b;transform:scaleX(0.9756);-webkit-text-stroke:0.5px #13a39b;">RT</div>
<div class="t" style="left:228.50px;top:1150.00px;font-size:21.67px;line-height:21.67px;letter-spacing:0.000px;color:#ffffff;transform:scaleX(1.1261);-webkit-text-stroke:0.35px #fff;">desamenoreh.magelangkab.go.id</div>
<div class="t" style="left:306.91px;top:77.00px;font-size:21.22px;line-height:21.22px;letter-spacing:-0.000px;color:#ffffff;transform:scaleX(0.9825);-webkit-text-stroke:0.4px #fff;">PEMBAGIAN WILAYAH</div>
<div class="t" style="left:338.95px;top:102.00px;font-size:21.66px;line-height:21.66px;letter-spacing:-0.000px;color:#ffffff;transform:scaleX(0.9352);-webkit-text-stroke:0.4px #fff;">DESA MENOREH</div>
</body></html>
